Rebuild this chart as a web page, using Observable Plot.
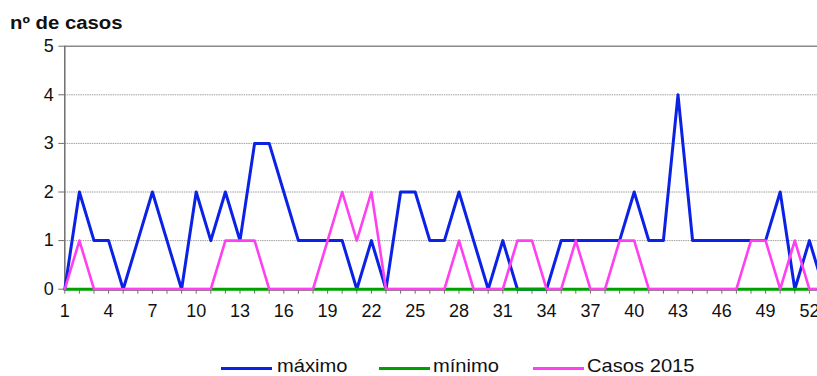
<!DOCTYPE html>
<html>
<head>
<meta charset="utf-8">
<script src="https://cdn.jsdelivr.net/npm/d3@7"></script>
<script src="https://cdn.jsdelivr.net/npm/@observablehq/plot@0.6"></script>
<style>
  html, body { margin: 0; padding: 0; background: #fff; }
  body { width: 817px; height: 376px; overflow: hidden; position: relative; font-family: "Liberation Sans", Arial, sans-serif; color: #111; }
  #title { position: absolute; left: 10px; top: 14px; font-weight: bold; font-size: 18px; line-height: 18px; white-space: nowrap; transform: scaleX(1.13); transform-origin: left center; }
  #chart { position: absolute; left: 0; top: 30px; }
  #chart svg { overflow: hidden; }
  .sw { position: absolute; height: 0; border-top: 3px solid; top: 367px; }
  .lt { position: absolute; top: 359px; font-size: 19px; line-height: 14px; white-space: nowrap; transform: scaleX(1.06); transform-origin: left center; }
</style>
</head>
<body>
<div id="title">nº de casos</div>
<div id="chart"></div>
<div id="legend"></div>
<script>
// Weeks (categories)
const weeks = [1,2,3,4,5,6,7,8,9,10,11,12,13,14,15,16,17,18,19,20,21,22,23,24,25,26,27,28,29,30,31,32,33,34,35,36,37,38,39,40,41,42,43,44,45,46,47,48,49,50,51,52,53];
// Series values
const maximo    = [0,2,1,1,0,1,2,1,0,2,1,2,1,3,3,2,1,1,1,1,0,1,0,2,2,1,1,2,1,0,1,0,0,0,1,1,1,1,1,2,1,1,4,1,1,1,1,1,1,2,0,1,0];
const minimo    = [0,0,0,0,0,0,0,0,0,0,0,0,0,0,0,0,0,0,0,0,0,0,0,0,0,0,0,0,0,0,0,0,0,0,0,0,0,0,0,0,0,0,0,0,0,0,0,0,0,0,0,0,0];
const casos2015 = [0,1,0,0,0,0,0,0,0,0,0,1,1,1,0,0,0,0,1,2,1,2,0,0,0,0,0,1,0,0,0,1,1,0,0,1,0,0,1,1,0,0,0,0,0,0,0,1,1,0,1,0,0];
// Tick labels
const xTickLabels = [1,4,7,10,13,16,19,22,25,28,31,34,37,40,43,46,49,52];
const yTicks = [0,1,2,3,4,5];
// Legend
const seriesNames = ["máximo","mínimo","Casos 2015"];
const seriesColors = ["#0b22e6","#00a000","#ff40f0"];

const rows = s => weeks.map((w, i) => ({week: w, value: s[i]}));

const plot = Plot.plot({
  width: 817,
  height: 300,
  marginLeft: 64.3,
  marginRight: 0,
  marginTop: 15.7,
  marginBottom: 41.3,
  style: {fontFamily: "'Liberation Sans', Arial, sans-serif", fontSize: "18px", color: "#111", background: "#fff", overflow: "hidden"},
  x: {domain: [1, 53], range: [64.3, 823.5]},
  y: {domain: [0, 5]},
  marks: [
    Plot.gridY({ticks: [1,2,3,4], stroke: "#a0a0a0", strokeOpacity: 1, strokeDasharray: "1.5,0.8"}),
    Plot.ruleY([5], {stroke: "#8a8a8a", strokeWidth: 1.6}),
    Plot.ruleX([1], {stroke: "#6e6e6e", strokeWidth: 1.5}),
    Plot.ruleY([0], {stroke: "#6e6e6e", strokeWidth: 1.2}),
    Plot.axisY({ticks: yTicks, tickSize: 6, tickPadding: 5, fontSize: 18, tickFormat: d => String(d), label: null, stroke: "#6e6e6e", fill: "#111"}),
    Plot.axisX({ticks: weeks, tickSize: 5, tickFormat: () => "", label: null, stroke: "#6e6e6e"}),
    Plot.axisX({ticks: xTickLabels, tickSize: 0, tickPadding: 15, fontSize: 18, tickFormat: d => String(d), label: null, fill: "#111"}),
    Plot.lineY(rows(maximo), {x: "week", y: "value", stroke: seriesColors[0], strokeWidth: 3}),
    Plot.lineY(rows(minimo), {x: "week", y: "value", stroke: seriesColors[1], strokeWidth: 3}),
    Plot.lineY(rows(casos2015), {x: "week", y: "value", stroke: seriesColors[2], strokeWidth: 2.6})
  ]
});
document.getElementById("chart").appendChild(plot);

// Legend (HTML)
const legendPos = [[221, 277], [379, 433], [533, 587]];
const legend = document.getElementById("legend");
seriesNames.forEach((name, i) => {
  const sw = document.createElement("div");
  sw.className = "sw";
  sw.style.left = legendPos[i][0] + "px";
  sw.style.width = "51px";
  sw.style.borderColor = seriesColors[i];
  legend.appendChild(sw);
  const t = document.createElement("div");
  t.className = "lt";
  t.style.left = legendPos[i][1] + "px";
  t.textContent = name;
  legend.appendChild(t);
});
</script>
</body>
</html>
